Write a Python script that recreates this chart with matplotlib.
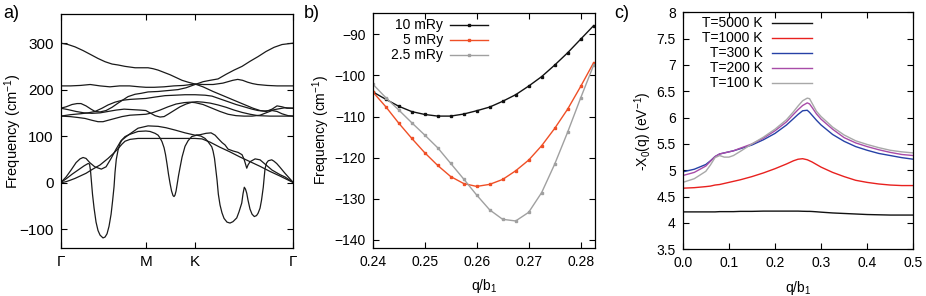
import matplotlib
matplotlib.use("Agg")
import matplotlib.pyplot as plt
import numpy as np

plt.rcParams["font.family"] = ["Liberation Sans", "DejaVu Sans"]
plt.rcParams["mathtext.fontset"] = "custom"
plt.rcParams["mathtext.rm"] = "Liberation Sans"
plt.rcParams["mathtext.it"] = "Liberation Sans:italic"
plt.rcParams["font.size"] = 10

# ── a) phonon dispersion along Γ-M-K-Γ ────────────────────────────────
K_TICKS = [0.0, 0.866, 1.366, 2.366]
K_LABELS = ["Γ", "M", "K", "Γ"]

# acoustic branches
ac1_k = [0, 0.023, 0.054, 0.095, 0.145, 0.196, 0.257, 0.318, 0.400, 0.481, 0.542, 0.583, 0.624, 0.654,
         0.705, 0.786, 0.866, 1.010, 1.163, 1.366, 1.437, 1.519, 1.620, 1.722, 1.824, 1.926, 2.027,
         2.129, 2.231, 2.366]
ac1_f = [0, 0.5, 2, 5, 9, 14, 20, 28, 38, 52, 64, 73, 83, 89, 93, 95, 95, 95, 95, 95, 94, 87, 76, 66,
         55, 45, 35, 24, 14, 0]

ac2_k = [0, 0.054, 0.105, 0.156, 0.196, 0.227, 0.257, 0.295, 0.346, 0.413, 0.461, 0.512, 0.563, 0.613,
         0.685, 0.786, 0.888, 0.990, 1.071, 1.163, 1.264, 1.366, 1.417, 1.478, 1.529, 1.570, 1.600,
         1.641, 1.671, 1.702, 1.753, 1.804, 1.844, 1.865, 1.892, 1.905, 1.926, 1.977, 2.027, 2.088,
         2.149, 2.231, 2.282, 2.366]
ac2_f = [0, 12, 27, 43, 51, 54, 52, 43, 34, 29, 34, 52, 72, 90, 102, 117, 122, 121, 118, 113, 107, 102,
         103, 106, 107, 102, 95, 86, 81, 72, 68, 65, 60, 50, 31, 38, 45, 51, 49, 38, 27, 17, 12, 0]

# soft branch
soft_k = [0, 0.054, 0.115, 0.176, 0.237, 0.278, 0.293, 0.303, 0.313, 0.323, 0.339, 0.359, 0.379, 0.400,
          0.430, 0.451, 0.471, 0.491, 0.512, 0.527, 0.542, 0.552, 0.565, 0.583, 0.603, 0.623, 0.654,
          0.705, 0.786, 0.866, 0.908, 0.959, 0.990, 1.010, 1.030, 1.051, 1.066, 1.081, 1.096, 1.112,
          1.127, 1.142, 1.152, 1.162, 1.173, 1.183, 1.198, 1.213, 1.234, 1.264, 1.295, 1.332, 1.383,
          1.427, 1.468, 1.498, 1.536, 1.549, 1.564, 1.579, 1.590, 1.603, 1.620, 1.640, 1.661, 1.691,
          1.722, 1.752, 1.790, 1.813, 1.841, 1.854, 1.867, 1.879, 1.892, 1.905, 1.925, 1.946, 1.969,
          1.991, 2.007, 2.027, 2.042, 2.060, 2.071, 2.078, 2.093, 2.111, 2.146, 2.169, 2.197, 2.230,
          2.281, 2.332, 2.366]
soft_f = [0, 8, 18, 27, 36, 41, 40, 25, 0, -25, -55, -85, -103, -113, -119, -117, -110, -94, -68, -40,
          -9, 22, 50, 70, 84, 92, 99, 104, 110, 111, 110, 106, 102, 96, 88, 75, 60, 40, 18, -2, -18,
          -28, -30, -27, -18, -5, 15, 32, 55, 78, 90, 99, 102, 100, 95, 88, 77, 68, 52, 25, 5, -25, -48,
          -65, -77, -85, -87, -84, -76, -63, -44, -24, -10, -14, -23, -38, -57, -68, -73, -71, -66, -55,
          -38, -10, 15, 30, 42, 47, 49, 46, 41, 33, 20, 8, 0]

# optical branches
op1_k = [0, 0.074, 0.145, 0.227, 0.308, 0.379, 0.451, 0.522, 0.583, 0.654, 0.756, 0.888, 0.939, 0.990,
         1.051, 1.112, 1.173, 1.234, 1.295, 1.366, 1.447, 1.549, 1.651, 1.752, 1.854, 1.956, 2.027,
         2.088, 2.149, 2.200, 2.251, 2.301, 2.366]
op1_f = [300, 297, 292, 284, 275, 267, 260, 255, 253, 250, 247, 247, 245, 242, 237, 232, 226, 220, 216,
         212, 206, 196, 187, 178, 169, 160, 155, 153, 158, 165, 163, 160, 160]

op2_k = [0, 0.1, 0.2, 0.3, 0.4, 0.5, 0.6, 0.7, 0.8, 0.866, 0.95, 1.05, 1.15, 1.25, 1.366, 1.45, 1.55,
         1.65, 1.75, 1.80, 1.85, 1.90, 1.95, 2.0, 2.1, 2.2, 2.3, 2.366]
op2_f = [208, 208, 209, 211, 208, 206, 208, 208, 206, 205, 205, 206, 208, 209, 212, 211, 211, 214, 220,
         222, 220, 216, 213, 211, 209, 208, 208, 208]

op3_k = [0, 0.054, 0.115, 0.166, 0.206, 0.257, 0.308, 0.349, 0.400, 0.461, 0.522, 0.583, 0.634, 0.685,
         0.756, 0.817, 0.888, 0.990, 1.091, 1.193, 1.275, 1.366, 1.447, 1.519, 1.600, 1.682, 1.763,
         1.844, 1.926, 2.007, 2.088, 2.170, 2.251, 2.366]
op3_f = [160, 163, 168, 170, 170, 165, 158, 153, 152, 155, 162, 171, 178, 185, 190, 192, 195, 196, 198,
         200, 204, 211, 217, 220, 223, 233, 242, 250, 261, 271, 282, 291, 297, 300]

op4_k = [0, 0.095, 0.196, 0.278, 0.349, 0.420, 0.481, 0.552, 0.623, 0.705, 0.786, 0.866, 0.959, 1.061,
         1.162, 1.264, 1.366, 1.468, 1.539, 1.620, 1.702, 1.783, 1.865, 1.946, 2.007, 2.068, 2.129,
         2.200, 2.281, 2.366]
op4_f = [143, 146, 148, 150, 153, 160, 167, 173, 177, 179, 180, 181, 184, 187, 188, 189, 189, 188, 186,
         180, 174, 168, 163, 158, 155, 154, 155, 158, 161, 160]

op5_k = [0, 0.074, 0.156, 0.237, 0.318, 0.400, 0.481, 0.563, 0.644, 0.725, 0.807, 0.866, 0.908, 0.959,
         1.010, 1.051, 1.091, 1.152, 1.213, 1.275, 1.336, 1.387, 1.447, 1.519, 1.600, 1.682, 1.763,
         1.844, 1.926, 2.007, 2.129, 2.230, 2.366]
op5_f = [160, 157, 153, 150, 149, 150, 153, 156, 158, 157, 156, 155, 150, 144, 141, 142, 147, 155, 163,
         169, 173, 174, 173, 171, 167, 162, 156, 151, 147, 144, 143, 143, 143]

op6_k = [0, 0.095, 0.176, 0.247, 0.318, 0.379, 0.430, 0.481, 0.552, 0.623, 0.705, 0.786, 0.866, 0.929,
         1.010, 1.091, 1.173, 1.254, 1.315, 1.366, 1.447, 1.539, 1.620, 1.702, 1.783, 1.865, 1.946,
         2.027, 2.088, 2.149, 2.200, 2.251, 2.312, 2.366]
op6_f = [143, 142, 140, 138, 134, 131, 131, 134, 138, 142, 145, 146, 147, 150, 156, 163, 169, 172, 173,
         172, 168, 160, 153, 147, 144, 143, 143, 145, 150, 155, 153, 148, 144, 143]

BANDS = [(ac1_k, ac1_f), (ac2_k, ac2_f), (soft_k, soft_f), (op1_k, op1_f), (op2_k, op2_f),
         (op3_k, op3_f), (op4_k, op4_f), (op5_k, op5_f), (op6_k, op6_f)]

# ── b) soft-mode frequency vs smearing ───────────────────────────────
q_b = [0.24, 0.2425, 0.245, 0.2475, 0.25, 0.2525, 0.255, 0.2575, 0.26, 0.2625, 0.265, 0.2675, 0.27,
       0.2725, 0.275, 0.2775, 0.28, 0.2825]
w_10 = [-104.0, -105.8, -107.5, -108.8, -109.5, -109.9, -109.9, -109.4, -108.6, -107.7, -106.3,
        -104.7, -102.6, -100.3, -97.5, -94.5, -91.2, -87.9]
w_5 = [-104.0, -107.6, -111.6, -115.3, -118.8, -121.9, -124.6, -126.3, -127.0, -126.5, -125.3,
       -123.2, -120.6, -117.1, -112.9, -108.2, -102.7, -96.9]
w_25 = [-102.1, -105.4, -108.4, -111.5, -114.5, -117.6, -121.4, -125.2, -129.1, -132.7, -135.0,
        -135.4, -133.3, -128.5, -121.6, -113.8, -105.5, -97.5]
B_LABELS = ["10 mRy", "5 mRy", "2.5 mRy"]
B_COLORS = ["#111111", "#ef4f26", "#a0a0a0"]

# ── c) bare susceptibility vs temperature ─────────────────────────────
q_c = [0, 0.025, 0.05, 0.06, 0.07, 0.08, 0.09, 0.1, 0.11, 0.125, 0.15, 0.175, 0.2, 0.225, 0.24, 0.25,
       0.26, 0.27, 0.275, 0.28, 0.29, 0.3, 0.325, 0.35, 0.375, 0.4, 0.425, 0.45, 0.475, 0.5]
chi_5000 = [4.21, 4.21, 4.21, 4.21, 4.21, 4.215, 4.215, 4.215, 4.215, 4.22, 4.22, 4.225, 4.225, 4.225,
            4.225, 4.225, 4.222, 4.22, 4.22, 4.218, 4.212, 4.205, 4.19, 4.18, 4.17, 4.16, 4.155,
            4.15, 4.15, 4.15]
chi_1000 = [4.66, 4.67, 4.69, 4.70, 4.72, 4.73, 4.75, 4.77, 4.79, 4.82, 4.88, 4.95, 5.03, 5.12, 5.18,
            5.21, 5.22, 5.20, 5.18, 5.16, 5.11, 5.06, 4.96, 4.88, 4.81, 4.77, 4.74, 4.72, 4.71, 4.71]
chi_300 = [4.97, 5.02, 5.11, 5.18, 5.26, 5.31, 5.33, 5.35, 5.37, 5.41, 5.48, 5.58, 5.70, 5.86, 5.98,
           6.06, 6.13, 6.14, 6.10, 6.05, 5.95, 5.86, 5.68, 5.55, 5.45, 5.38, 5.32, 5.28, 5.24, 5.21]
chi_200 = [4.90, 4.96, 5.08, 5.17, 5.26, 5.31, 5.33, 5.35, 5.37, 5.42, 5.50, 5.61, 5.75, 5.92, 6.06,
           6.15, 6.23, 6.28, 6.26, 6.20, 6.07, 5.97, 5.78, 5.62, 5.52, 5.45, 5.39, 5.34, 5.30, 5.28]
chi_100 = [4.77, 4.84, 4.98, 5.10, 5.24, 5.28, 5.25, 5.25, 5.28, 5.36, 5.50, 5.63, 5.78, 5.96, 6.11,
           6.22, 6.32, 6.37, 6.36, 6.28, 6.12, 6.02, 5.82, 5.67, 5.56, 5.49, 5.43, 5.38, 5.35, 5.33]
C_LABELS = ["T=5000 K", "T=1000 K", "T=300 K", "T=200 K", "T=100 K"]
C_COLORS = ["#111111", "#e8211f", "#2641a6", "#a84ca8", "#a8a8a8"]


def style(ax, size=10):
    ax.tick_params(direction="in", top=True, right=True, length=4, width=0.8, labelsize=size, pad=5)
    for s in ax.spines.values():
        s.set_linewidth(0.9)


def legend_rows(ax, labels, colors, x_text, x0, x1, y_top, dy, marker=None):
    for i, (lab, col) in enumerate(zip(labels, colors)):
        y = y_top - i * dy
        ax.text(x_text, y, lab, transform=ax.transAxes, ha="right", va="center", fontsize=10)
        ax.plot([x0, (x0 + x1) / 2, x1], [y, y, y], color=col, lw=1.0, transform=ax.transAxes,
                marker=marker, markersize=2.0, markevery=[1], clip_on=False)


fig = plt.figure(figsize=(9.26, 2.96), dpi=100)

# a)
ax = fig.add_axes([0.0656, 0.1632, 0.2512, 0.7885])
for k, f in BANDS:
    ax.plot(k, f, color="#1a1a1a", lw=0.9)
ax.set_xlim(0, 2.366)
ax.set_ylim(-140, 362)
ax.set_xticks(K_TICKS)
ax.set_xticklabels(K_LABELS)
ax.set_yticks([-100, 0, 100, 200, 300])
ax.set_ylabel("Frequency (cm$^{-1}$)", fontsize=10.5)
ax.yaxis.set_label_coords(-0.16, 0.5)
style(ax, 11)
fig.text(0.003, 0.955, "a)", fontsize=13, va="center")

# b)
ax = fig.add_axes([0.4025, 0.1632, 0.2397, 0.7919])
for w, col in zip([w_10, w_5, w_25], B_COLORS):
    ax.plot(q_b, w, color=col, lw=1.0, marker="s", markersize=2.0)
ax.set_xlim(0.24, 0.2827)
ax.set_ylim(-141.9, -84.9)
ax.set_xticks([0.24, 0.25, 0.26, 0.27, 0.28])
ax.set_yticks([-140, -130, -120, -110, -100, -90])
ax.set_xlabel("q/b$_\\mathregular{1}$", labelpad=6)
ax.set_ylabel("Frequency (cm$^{-1}$)", labelpad=2)
style(ax)
legend_rows(ax, B_LABELS, B_COLORS, 0.317, 0.348, 0.519, 0.950, 0.064, marker="s")
fig.text(0.328, 0.955, "b)", fontsize=13, va="center")

# c)
ax = fig.add_axes([0.7373, 0.1578, 0.2490, 0.8007])
for chi, col in zip([chi_5000, chi_1000, chi_300, chi_200, chi_100], C_COLORS):
    ax.plot(q_c, chi, color=col, lw=1.0)
ax.set_xlim(0, 0.5)
ax.set_ylim(3.5, 8)
ax.set_xticks([0.0, 0.1, 0.2, 0.3, 0.4, 0.5])
ax.set_xticklabels(["0.0", "0.1", "0.2", "0.3", "0.4", "0.5"])
ax.set_yticks([3.5, 4, 4.5, 5, 5.5, 6, 6.5, 7, 7.5, 8])
ax.set_yticklabels(["3.5", "4", "4.5", "5", "5.5", "6", "6.5", "7", "7.5", "8"])
ax.set_xlabel("q/b$_\\mathregular{1}$", labelpad=6)
ax.set_ylabel("-X$_\\mathregular{0}$(q) (eV$^{-1}$)", labelpad=2)
style(ax)
legend_rows(ax, C_LABELS, C_COLORS, 0.347, 0.389, 0.559, 0.954, 0.0635)
fig.text(0.663, 0.955, "c)", fontsize=13, va="center")

fig.savefig("out.png", dpi=100)
